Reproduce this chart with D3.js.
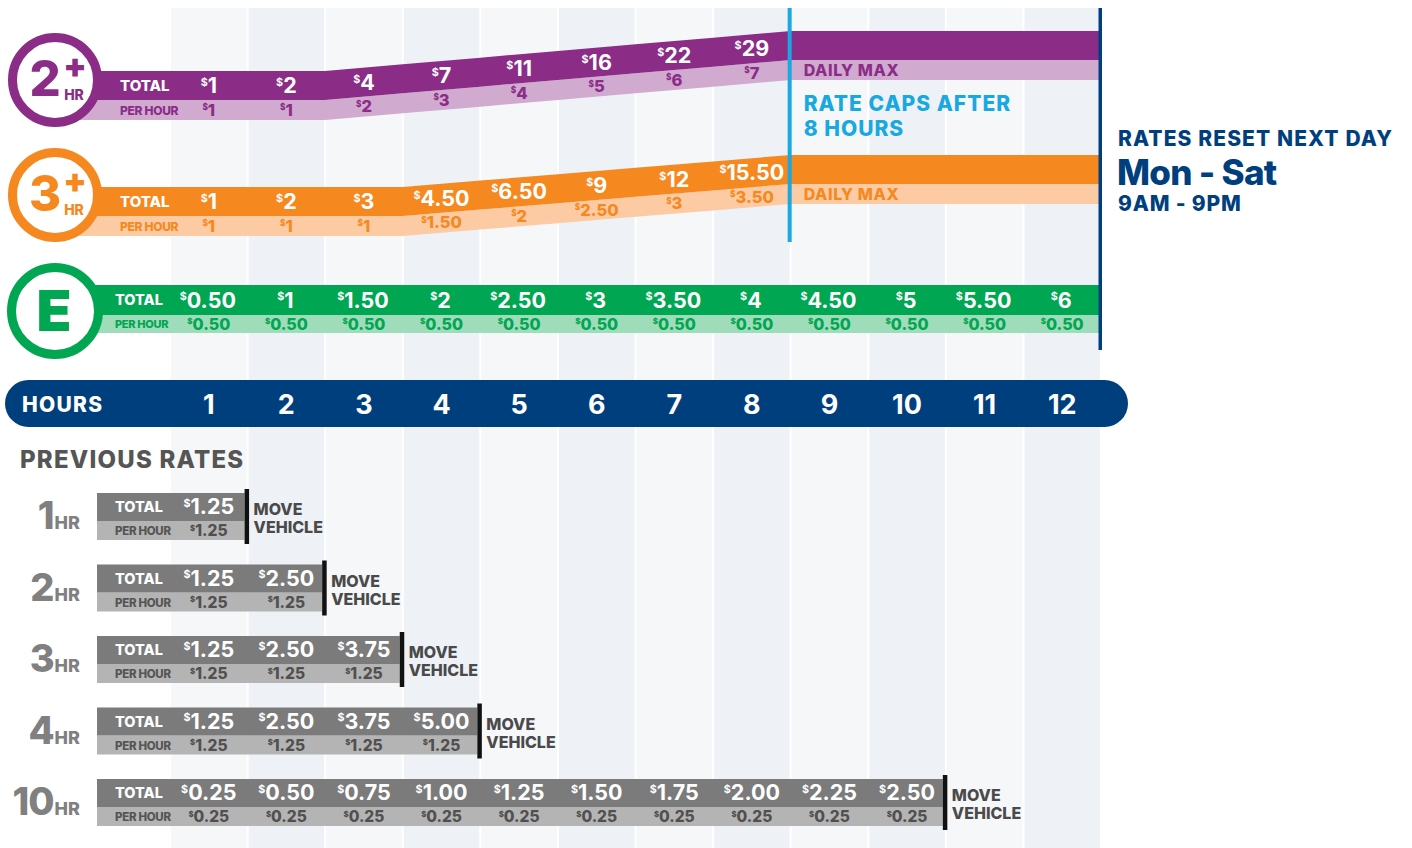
<!DOCTYPE html>
<html><head><meta charset="utf-8">
<script src="https://cdn.jsdelivr.net/npm/d3@7"></script>
<style>
body{margin:0;background:#fff;}
svg{display:block;font-family:Inter,"Open Sans",sans-serif;}
</style></head><body>
<svg id="chart" width="1412" height="848"></svg>
<script>
// ---------- DATA ----------
const hours = [1,2,3,4,5,6,7,8,9,10,11,12];
const capHour = 8;
const twoHrTotal   = [1,2,4,7,11,16,22,29];
const twoHrPerHour = [1,1,2,3,4,5,6,7];
const threeHrTotal   = [1,2,3,4.5,6.5,9,12,15.5];
const threeHrPerHour = [1,1,1,1.5,2,2.5,3,3.5];
const eTotal   = [0.5,1,1.5,2,2.5,3,3.5,4,4.5,5,5.5,6];
const ePerHour = [0.5,0.5,0.5,0.5,0.5,0.5,0.5,0.5,0.5,0.5,0.5,0.5];
const prevLabels = ["1","2","3","4","10"];
const prevTotals = [
  [1.25],
  [1.25,2.50],
  [1.25,2.50,3.75],
  [1.25,2.50,3.75,5.00],
  [0.25,0.50,0.75,1.00,1.25,1.50,1.75,2.00,2.25,2.50]
];
const prevPerHour = [
  [1.25],
  [1.25,1.25],
  [1.25,1.25,1.25],
  [1.25,1.25,1.25,1.25],
  [0.25,0.25,0.25,0.25,0.25,0.25,0.25,0.25,0.25,0.25]
];
const texts = {
  total:"TOTAL", perHour:"PER HOUR", dailyMax:"DAILY MAX",
  caps:["RATE CAPS AFTER","8 HOURS"],
  reset:"RATES RESET NEXT DAY", days:"Mon - Sat", time:"9AM - 9PM",
  hoursLabel:"HOURS", previous:"PREVIOUS RATES", move:["MOVE","VEHICLE"]
};

// ---------- STYLE ----------
const C = {
  purple:"#8b2d87", purpleL:"#d1aad0",
  orange:"#f58920", orangeL:"#fccba3",
  green:"#00a651", greenL:"#9fdcba",
  navy:"#003f7e", sky:"#19a8e0",
  greyD:"#7b7b7b", greyL:"#b4b4b4", greyT:"#555555"
};

const svg = d3.select("#chart");
const x = d3.scaleLinear().domain([0,12]).range([170,1101]);
const xc = h => x(h-0.5);
const fmtTop = v => Number.isInteger(v) ? String(v) : v.toFixed(2);
const fmt2 = v => v.toFixed(2);

// ---------- COLUMN STRIPES ----------
svg.append("g").selectAll("rect").data(hours).join("rect")
  .attr("x", h => x(h-1)+1).attr("width", h => x(h)-x(h-1)-2)
  .attr("y", 8).attr("height", 840)
  .attr("fill", h => h%2 ? "#f6f7f9" : "#eef2f7");

function money(sel, v, fmt, size, color){
  sel.attr("fill", color);
  sel.append("tspan").attr("font-size", size*0.5).attr("dy", -size*0.33).text("$");
  sel.append("tspan").attr("font-size", size).attr("dy", size*0.33).text(fmt(v));
}

// ---------- TILTED RATE BANDS (2+ and 3+) ----------
const tiltRows = [
  {big:"2", total:twoHrTotal, per:twoHrPerHour, topBase:71, topCap:31, cy:80, col:C.purple, colL:C.purpleL},
  {big:"3", total:threeHrTotal, per:threeHrPerHour, topBase:187, topCap:155, cy:195, col:C.orange, colL:C.orangeL}
];
const HT = 29, HP = 20;

tiltRows.forEach(r => {
  const lift = d3.scaleLinear().domain(d3.extent(r.per)).range([r.topBase, r.topCap]);
  const rateAt = b => b === 0 ? r.per[0] : r.per[Math.min(b, capHour)-1];
  const pts = [{px:55, rate:r.per[0]}];
  for (let b=0; b<=capHour; b++) pts.push({px:x(b), rate:rateAt(b)});
  pts.push({px:x(12), rate:rateAt(capHour)});
  const g = svg.append("g");
  g.append("path").datum(pts).attr("fill", r.colL)
    .attr("d", d3.area().x(d=>d.px).y0(d=>lift(d.rate)+HT).y1(d=>lift(d.rate)+HT+HP));
  g.append("path").datum(pts).attr("fill", r.col)
    .attr("d", d3.area().x(d=>d.px).y0(d=>lift(d.rate)).y1(d=>lift(d.rate)+HT));
  const topAt = h => (lift(rateAt(h-1)) + lift(rateAt(h)))/2;
  // labels
  g.append("text").attr("x",120).attr("y", r.topBase+HT/2+5.5).attr("font-size",15).attr("font-weight",800)
    .attr("fill","#fff").text(texts.total);
  g.append("text").attr("x",120).attr("y", r.topBase+HT+HP/2+4.5).attr("font-size",12).attr("font-weight",800)
    .attr("fill", r.col).attr("letter-spacing",-0.3).text(texts.perHour);
  g.selectAll("text.t").data(r.total).join("text").attr("class","t")
    .attr("x",(d,i)=>xc(i+1)).attr("y",(d,i)=>topAt(i+1)+HT/2+7.5)
    .attr("text-anchor","middle").attr("font-weight",700)
    .each(function(d){ money(d3.select(this), d, fmtTop, 21.5, "#fff"); });
  g.selectAll("text.p").data(r.per).join("text").attr("class","p")
    .attr("x",(d,i)=>xc(i+1)).attr("y",(d,i)=>topAt(i+1)+HT+HP/2+5.5)
    .attr("text-anchor","middle").attr("font-weight",800)
    .each(function(d){ money(d3.select(this), d, fmtTop, 16.5, r.col); });
  g.append("text").attr("x", x(capHour)+13).attr("y", r.topCap+HT+HP/2+5.5)
    .attr("font-size",16).attr("font-weight",800).attr("letter-spacing",0.6).attr("fill", r.col).text(texts.dailyMax);
  // circle badge
  g.append("circle").attr("cx",55).attr("cy",r.cy).attr("r",42.5)
    .attr("fill","#fff").attr("stroke",r.col).attr("stroke-width",9);
  g.append("text").attr("x",45).attr("y",r.cy+16).attr("text-anchor","middle")
    .attr("font-size",49).attr("font-weight",800).attr("fill",r.col).text(r.big);
  g.append("text").attr("x",75).attr("y",r.cy-2).attr("text-anchor","middle")
    .attr("font-size",34).attr("font-weight",900).attr("fill",r.col).text("+");
  g.append("text").attr("x",74).attr("y",r.cy+20).attr("text-anchor","middle")
    .attr("font-size",14).attr("font-weight",800).attr("fill",r.col).text("HR");
});

// ---------- E ROW ----------
{
  const top = 285, ht = 30, hp = 18;
  const g = svg.append("g");
  g.append("rect").attr("x",55).attr("y",top+ht).attr("width",x(12)-55).attr("height",hp).attr("fill",C.greenL);
  g.append("rect").attr("x",55).attr("y",top).attr("width",x(12)-55).attr("height",ht).attr("fill",C.green);
  g.append("text").attr("x",115).attr("y",top+ht/2+5).attr("font-size",14.5).attr("font-weight",800)
    .attr("fill","#fff").text(texts.total);
  g.append("text").attr("x",115).attr("y",top+ht+hp/2+4).attr("font-size",11).attr("font-weight",800)
    .attr("fill",C.green).attr("letter-spacing",-0.3).text(texts.perHour);
  g.selectAll("text.t").data(eTotal).join("text").attr("class","t")
    .attr("x",(d,i)=>xc(i+1)-1).attr("y",top+ht/2+7.5).attr("text-anchor","middle").attr("font-weight",700)
    .each(function(d){ money(d3.select(this), d, fmtTop, 21.5, "#fff"); });
  g.selectAll("text.p").data(ePerHour).join("text").attr("class","p")
    .attr("x",(d,i)=>xc(i+1)).attr("y",top+ht+hp/2+5.5).attr("text-anchor","middle").attr("font-weight",800)
    .each(function(d){ money(d3.select(this), d, fmt2, 16, C.green); });
  g.append("circle").attr("cx",55).attr("cy",311).attr("r",43.5)
    .attr("fill","#fff").attr("stroke",C.green).attr("stroke-width",9);
  g.append("text").attr("x",54).attr("y",331).attr("text-anchor","middle")
    .attr("font-size",57).attr("font-weight",900).attr("fill",C.green).text("E");
}

// ---------- VERTICAL MARKERS ----------
svg.append("rect").attr("x", x(capHour)-3).attr("y",8).attr("width",4).attr("height",234).attr("fill",C.sky);
svg.append("rect").attr("x", x(12)-2.5).attr("y",8).attr("width",3.5).attr("height",342).attr("fill",C.navy);

svg.append("g").selectAll("text").data(texts.caps).join("text")
  .attr("x", x(capHour)+13).attr("y",(d,i)=>111+i*25).attr("font-size",21).attr("font-weight",800)
  .attr("letter-spacing",1).attr("fill",C.sky).text(d=>d);

svg.append("text").attr("x",1118).attr("y",146).attr("font-size",21).attr("font-weight",800).attr("letter-spacing",1.1).attr("fill",C.navy).text(texts.reset);
svg.append("text").attr("x",1117).attr("y",185).attr("font-size",35).attr("font-weight",800).attr("letter-spacing",-0.7).attr("fill",C.navy).text(texts.days);
svg.append("text").attr("x",1118).attr("y",211).attr("font-size",21).attr("font-weight",800).attr("letter-spacing",0.8).attr("fill",C.navy).text(texts.time);

// ---------- HOURS BAR ----------
svg.append("rect").attr("x",5).attr("y",380).attr("width",1123).attr("height",47).attr("rx",23.5).attr("fill",C.navy);
svg.append("text").attr("x",22).attr("y",412).attr("font-size",21).attr("font-weight",800).attr("letter-spacing",1.3).attr("fill","#fff").text(texts.hoursLabel);
svg.append("g").selectAll("text").data(hours).join("text")
  .attr("x", h => xc(h)).attr("y",414).attr("text-anchor","middle")
  .attr("font-size",27).attr("font-weight",700).attr("fill","#fff").text(h=>h);

// ---------- PREVIOUS RATES ----------
svg.append("text").attr("x",20).attr("y",468).attr("font-size",24).attr("font-weight",800).attr("letter-spacing",1.2).attr("fill",C.greyT).text(texts.previous);
const yRow = d3.scalePoint().domain(prevLabels).range([493, 779]);
prevLabels.forEach((lab, i) => {
  const top = yRow(lab), n = prevTotals[i].length, end = x(n)-3;
  const g = svg.append("g");
  g.append("rect").attr("x",97).attr("y",top+28).attr("width",end-97).attr("height",19).attr("fill",C.greyL);
  g.append("rect").attr("x",97).attr("y",top).attr("width",end-97).attr("height",28).attr("fill",C.greyD);
  g.append("rect").attr("x",end).attr("y",top-4).attr("width",4.5).attr("height",55).attr("fill","#111");
  g.append("text").attr("x",115).attr("y",top+19).attr("font-size",14.5).attr("font-weight",800).attr("fill","#fff").text(texts.total);
  g.append("text").attr("x",115).attr("y",top+42).attr("font-size",11.5).attr("font-weight",800).attr("fill",C.greyT).attr("letter-spacing",-0.3).text(texts.perHour);
  g.selectAll("text.t").data(prevTotals[i]).join("text").attr("class","t")
    .attr("x",(d,j)=>xc(j+1)).attr("y",top+21).attr("text-anchor","middle").attr("font-weight",700)
    .each(function(d){ money(d3.select(this), d, fmt2, 21.5, "#fff"); });
  g.selectAll("text.p").data(prevPerHour[i]).join("text").attr("class","p")
    .attr("x",(d,j)=>xc(j+1)).attr("y",top+43).attr("text-anchor","middle").attr("font-weight",800)
    .each(function(d){ money(d3.select(this), d, fmt2, 15.5, "#505050"); });
  g.selectAll("text.m").data(texts.move).join("text").attr("class","m")
    .attr("x",end+9).attr("y",(d,k)=>top+22+k*18).attr("font-size",16).attr("font-weight",800)
    .attr("fill","#4a4a4a").text(d=>d);
  const lt = g.append("text").attr("x",80).attr("y",top+36).attr("text-anchor","end").attr("fill","#808080").attr("font-weight",800);
  lt.append("tspan").attr("font-size",38).attr("letter-spacing",-1).text(lab);
  lt.append("tspan").attr("font-size",18).attr("dx",1).text("HR");
});
</script>
</body></html>
